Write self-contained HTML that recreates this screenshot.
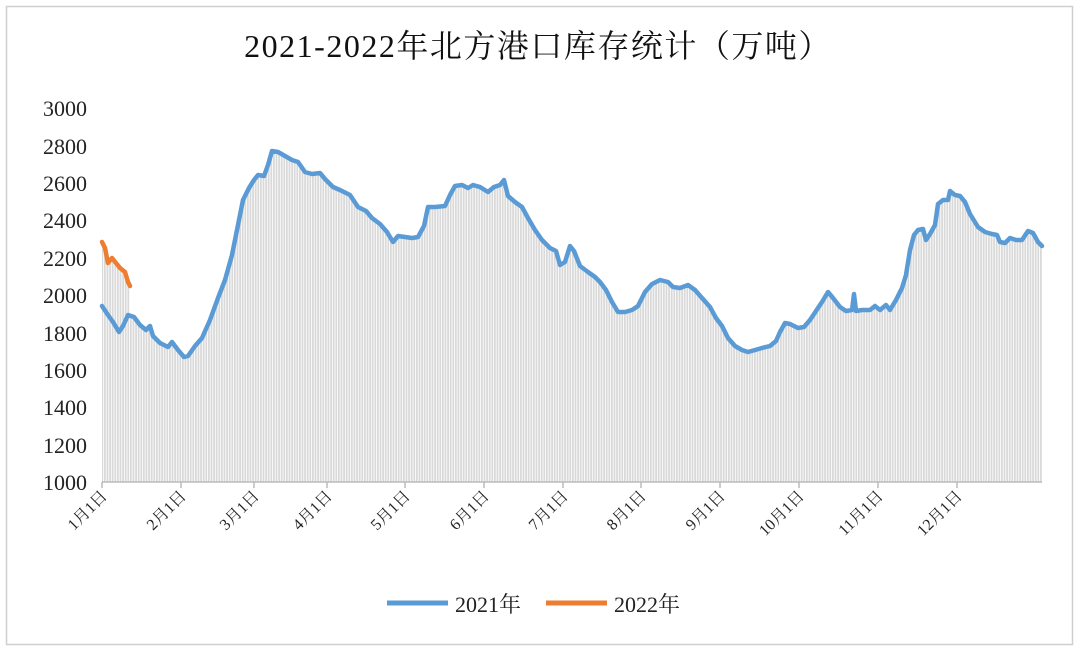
<!DOCTYPE html>
<html><head><meta charset="utf-8"><style>
body{margin:0;background:#fff}
</style></head><body>
<svg width="1080" height="652" xmlns="http://www.w3.org/2000/svg" font-family="'Liberation Serif','Noto Serif CJK SC',serif">
<defs>
<pattern id="bars" width="2.6" height="10" patternUnits="userSpaceOnUse">
<rect width="2.6" height="10" fill="#ffffff"/><rect x="0" width="1.8" height="10" fill="#d9d9d9"/>
</pattern>
</defs>
<rect x="0" y="0" width="1080" height="652" fill="#fff"/>
<rect x="6.5" y="6.5" width="1066" height="638" fill="none" stroke="#cfcfcf" stroke-width="1.5"/>
<text x="538" y="57" font-size="32" letter-spacing="1.5" text-anchor="middle" fill="#111">2021-2022年北方港口库存统计（万吨）</text>
<g font-size="22" fill="#222" text-anchor="end">
<text x="87" y="116">3000</text><text x="87" y="154">2800</text><text x="87" y="191">2600</text><text x="87" y="228">2400</text><text x="87" y="266">2200</text><text x="87" y="303">2000</text><text x="87" y="341">1800</text><text x="87" y="378">1600</text><text x="87" y="415">1400</text><text x="87" y="453">1200</text><text x="87" y="490">1000</text>
</g>
<g id="area"></g>
<line x1="102" y1="482" x2="1042" y2="482" stroke="#bbb" stroke-width="1.5"/>
<g stroke="#bbb" stroke-width="1.5">
<line x1="102" y1="482" x2="102" y2="488"/><line x1="181" y1="482" x2="181" y2="488"/><line x1="254" y1="482" x2="254" y2="488"/><line x1="327" y1="482" x2="327" y2="488"/><line x1="405" y1="482" x2="405" y2="488"/><line x1="484" y1="482" x2="484" y2="488"/><line x1="563" y1="482" x2="563" y2="488"/><line x1="641" y1="482" x2="641" y2="488"/><line x1="720" y1="482" x2="720" y2="488"/><line x1="799" y1="482" x2="799" y2="488"/><line x1="878" y1="482" x2="878" y2="488"/><line x1="957" y1="482" x2="957" y2="488"/>
</g>
<g font-size="16" fill="#222" text-anchor="end">
<text transform="translate(108,497) rotate(-45)">1月1日</text>
<text transform="translate(187,497) rotate(-45)">2月1日</text>
<text transform="translate(260,497) rotate(-45)">3月1日</text>
<text transform="translate(333,497) rotate(-45)">4月1日</text>
<text transform="translate(411,497) rotate(-45)">5月1日</text>
<text transform="translate(490,497) rotate(-45)">6月1日</text>
<text transform="translate(569,497) rotate(-45)">7月1日</text>
<text transform="translate(647,497) rotate(-45)">8月1日</text>
<text transform="translate(726,497) rotate(-45)">9月1日</text>
<text transform="translate(805,497) rotate(-45)">10月1日</text>
<text transform="translate(884,497) rotate(-45)">11月1日</text>
<text transform="translate(963,497) rotate(-45)">12月1日</text>
</g>
<g id="lines"></g>
<line x1="387" y1="603" x2="448" y2="603" stroke="#5b9bd5" stroke-width="5"/>
<text x="455" y="612" font-size="22" fill="#222">2021年</text>
<line x1="546" y1="603" x2="607" y2="603" stroke="#ed7d31" stroke-width="5"/>
<text x="614" y="612" font-size="22" fill="#222">2022年</text>
</svg>
<script>
var a=[[102,306],[108,315],[113,322],[119,332],[123,326],[128,315],[134,317],[140,325],[146,330],[150,326],[153,336],[160,343],[168,347],[172,342],[178,350],[184,357],[188,356],[195,346],[202,338],[210,320],[218,298],[225,280],[232,255],[238,225],[243,200],[249,188],[254,180],[258,175],[264,176],[268,165],[272,151],[278,152],[285,156],[292,160],[298,162],[305,172],[312,174],[320,173],[325,179],[333,187],[340,190],[350,195],[358,207],[366,211],[372,218],[380,224],[387,232],[393,242],[398,236],[405,237],[412,238],[418,237],[424,226],[428,207],[435,207],[445,206],[450,195],[455,186],[462,185],[468,188],[473,185],[480,187],[488,192],[494,187],[500,185],[504,180],[508,196],[515,202],[522,207],[528,218],[535,230],[542,240],[550,248],[556,251],[560,265],[565,262],[570,246],[574,251],[580,266],[588,272],[595,277],[600,282],[606,290],[612,302],[618,312],[625,312],[632,310],[638,306],[645,292],[652,284],[660,280],[668,282],[673,287],[680,288],[688,285],[695,290],[702,298],[710,307],[716,318],[722,326],[728,338],[735,346],[742,350],[748,352],[755,350],[762,348],[770,346],[776,341],[780,332],[785,323],[790,324],[798,328],[804,327],[810,320],[816,311],[822,302],[828,292],[833,298],[840,307],[846,311],[852,310],[854,294],[856,311],[862,310],[870,310],[875,306],[880,310],[886,305],[890,310],[896,300],[902,288],[906,275],[910,250],[914,235],[918,230],[923,229],[926,240],[930,234],[935,225],[938,204],[943,200],[948,200],[950,191],[955,195],[960,196],[965,202],[970,214],[978,227],[985,232],[992,234],[997,235],[1000,242],[1005,243],[1010,238],[1016,240],[1022,240],[1028,231],[1033,233],[1038,242],[1042,246]];
var b=[[102,242],[105,248],[108,263],[112,258],[116,263],[120,268],[125,272],[128,282],[130,286]];
function s(p){return p.map(function(q){return q.join(',')}).join(' ')}
var ns='http://www.w3.org/2000/svg';
function el(t,at,par){var e=document.createElementNS(ns,t);for(var k in at)e.setAttribute(k,at[k]);document.getElementById(par).appendChild(e);return e}
el('polygon',{points:'102,482 '+s(b)+' 130,482',fill:'url(#bars)'},'area');
el('polygon',{points:'102,482 '+s(a)+' 1042,482',fill:'url(#bars)'},'area');
el('polyline',{points:s(a),fill:'none',stroke:'#5b9bd5','stroke-width':4.5,'stroke-linejoin':'round','stroke-linecap':'round'},'lines');
el('polyline',{points:s(b),fill:'none',stroke:'#ed7d31','stroke-width':4.5,'stroke-linejoin':'round','stroke-linecap':'round'},'lines');
</script>
</body></html>
